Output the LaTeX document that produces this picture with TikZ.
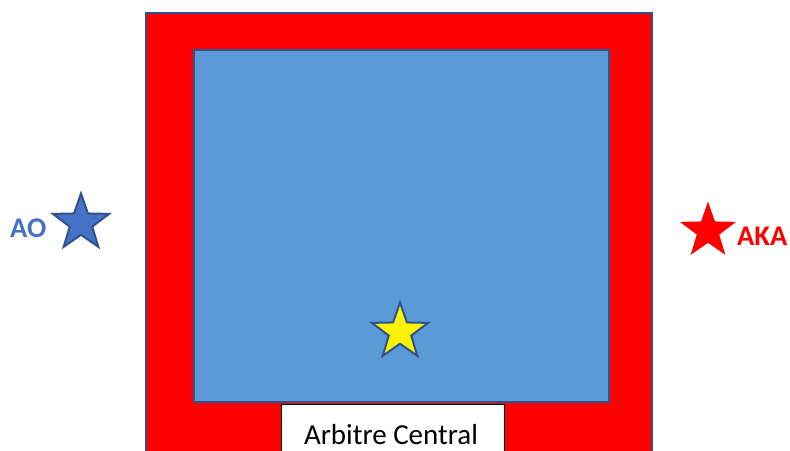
\documentclass[tikz,border=0pt]{standalone}
\usepackage{fontspec}
\setmainfont{Carlito}
\usetikzlibrary{shapes.geometric}
\definecolor{dkblue}{HTML}{2F528F}
\definecolor{matblue}{HTML}{5B9BD5}
\definecolor{aoblue}{HTML}{4472C4}
\definecolor{akared}{HTML}{FF0000}
\tikzset{
  starshape/.style={star, star points=5, star point ratio=2.5, inner sep=0pt, minimum size=59pt},
  lbl/.style={font=\fontsize{28.5}{32}\selectfont\bfseries, inner sep=0pt}
}
\begin{document}
\begin{tikzpicture}[x=1pt,y=-1pt]
\useasboundingbox (0,0) rectangle (790,450);
\clip (0,0) rectangle (790,450);
\fill[white] (0,0) rectangle (790,450);
\draw[fill=akared, draw=dkblue, line width=2.5pt] (146,13) rectangle (652,470);
\draw[fill=matblue, draw=dkblue, line width=2pt] (194,50) rectangle (609,402);
\node[draw=black, fill=white, line width=1.2pt, minimum width=223pt, minimum height=70pt, anchor=north west, inner sep=0pt] (arb) at (281,404) {};
\node[font=\fontsize{29}{34}\selectfont, anchor=base, inner sep=1pt] (arbt) at (391,444) {Arbitre Central};
\node[starshape, fill=aoblue, draw=dkblue, line width=2pt] (aostar) at (81,223) {};
\node[starshape, fill=akared] (akastar) at (708,231) {};
\node[starshape, fill=yellow, draw=dkblue, line width=2pt] (ystar) at (400,332) {};
\node[lbl, text=aoblue, anchor=base west] (ao) at (10,237) {AO};
\node[lbl, text=akared, anchor=base west] (aka) at (737,245) {AKA};
\end{tikzpicture}
\end{document}
